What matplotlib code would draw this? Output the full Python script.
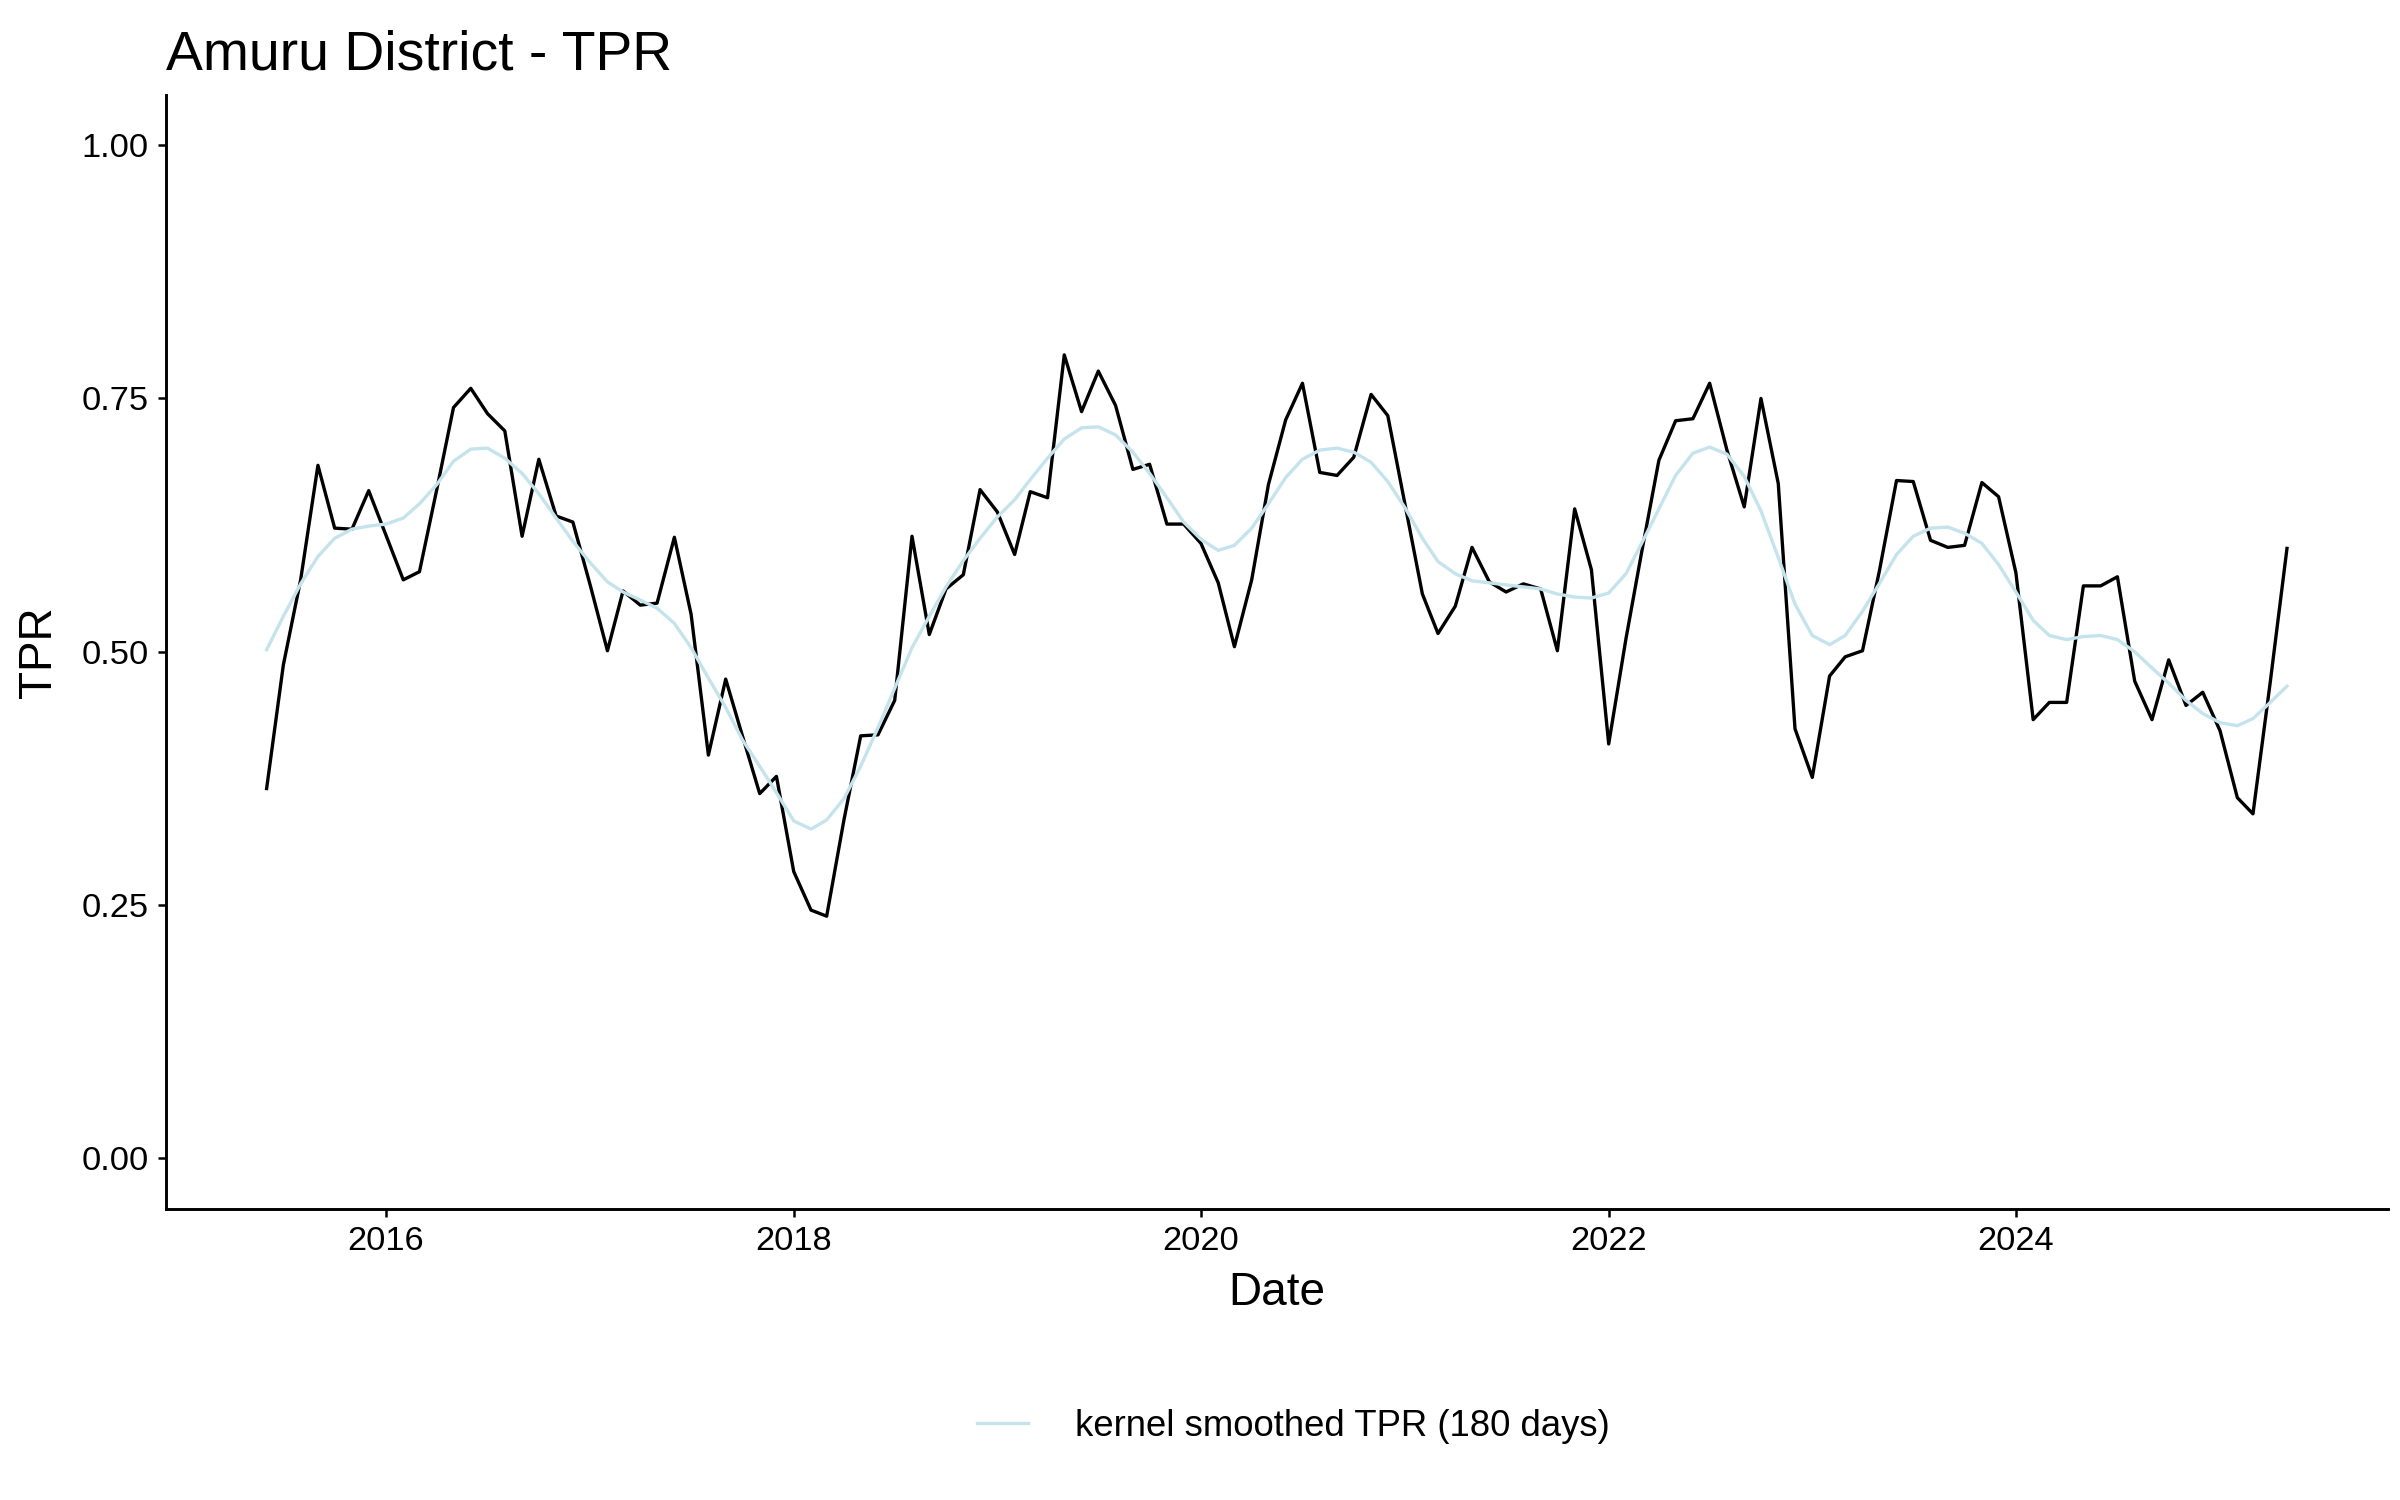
import matplotlib
matplotlib.use("Agg")
import matplotlib.pyplot as plt
import matplotlib.dates as mdates
import pandas as pd

plt.rcParams['font.family'] = ['Liberation Sans', 'DejaVu Sans']

# monthly observations, June 2015 -> May 2025
start_month = "2015-06-01"
n_months = 120

tpr = [
    0.365, 0.487, 0.571, 0.684, 0.622, 0.621, 0.659, 0.615, 0.571, 0.579,
    0.660, 0.741, 0.760, 0.735, 0.718, 0.614, 0.690, 0.634, 0.628, 0.566,
    0.501, 0.560, 0.546, 0.548, 0.613, 0.537, 0.398, 0.473, 0.417, 0.360,
    0.377, 0.283, 0.245, 0.239, 0.334, 0.417, 0.418, 0.452, 0.614, 0.517,
    0.562, 0.576, 0.660, 0.638, 0.596, 0.658, 0.652, 0.793, 0.737, 0.777,
    0.743, 0.680, 0.685, 0.626, 0.626, 0.607, 0.568, 0.505, 0.571, 0.665,
    0.729, 0.765, 0.677, 0.674, 0.692, 0.754, 0.733, 0.645, 0.557, 0.518,
    0.545, 0.603, 0.569, 0.559, 0.567, 0.562, 0.501, 0.641, 0.581, 0.409,
    0.513, 0.598, 0.689, 0.728, 0.730, 0.765, 0.699, 0.643, 0.750, 0.666,
    0.424, 0.376, 0.476, 0.495, 0.501, 0.579, 0.669, 0.668, 0.610, 0.603,
    0.605, 0.667, 0.653, 0.578, 0.433, 0.450, 0.450, 0.565, 0.565, 0.574,
    0.471, 0.433, 0.492, 0.447, 0.460, 0.422, 0.356, 0.340, 0.470, 0.602,
]

tpr_smooth = [
    0.502, 0.535, 0.567, 0.594, 0.612, 0.621, 0.624, 0.626, 0.632, 0.646,
    0.665, 0.688, 0.700, 0.701, 0.691, 0.676, 0.656, 0.632, 0.609, 0.588,
    0.569, 0.559, 0.551, 0.543, 0.528, 0.504, 0.474, 0.445, 0.413, 0.387,
    0.361, 0.333, 0.325, 0.334, 0.355, 0.387, 0.425, 0.464, 0.504, 0.535,
    0.564, 0.590, 0.612, 0.633, 0.650, 0.670, 0.691, 0.710, 0.721, 0.722,
    0.714, 0.697, 0.676, 0.652, 0.628, 0.611, 0.600, 0.605, 0.622, 0.646,
    0.672, 0.690, 0.699, 0.701, 0.697, 0.687, 0.668, 0.642, 0.612, 0.589,
    0.577, 0.570, 0.568, 0.566, 0.564, 0.562, 0.557, 0.554, 0.553, 0.558,
    0.577, 0.607, 0.641, 0.674, 0.696, 0.702, 0.695, 0.673, 0.639, 0.593,
    0.547, 0.516, 0.507, 0.516, 0.540, 0.567, 0.596, 0.614, 0.622, 0.623,
    0.617, 0.607, 0.586, 0.559, 0.531, 0.516, 0.512, 0.515, 0.516, 0.512,
    0.500, 0.484, 0.469, 0.452, 0.439, 0.430, 0.427, 0.434, 0.450, 0.466,
]

y_ticks = [0.00, 0.25, 0.50, 0.75, 1.00]

dates = pd.date_range(start_month, periods=n_months, freq="MS")

fig = plt.figure(figsize=(16, 10), dpi=150)
ax = fig.add_axes([0.069, 0.194, 0.926, 0.743])

ax.plot(dates, tpr, color="black", linewidth=1.6, zorder=2)
ax.plot(dates, tpr_smooth, color="#c5e3ec", linewidth=1.6, zorder=3,
        label="kernel smoothed TPR (180 days)")

# ggplot-like 5% expansion
span = dates[-1] - dates[0]
ax.set_xlim(dates[0] - span * 0.05, dates[-1] + span * 0.05)
ax.set_ylim(-0.05, 1.05)
ax.set_yticks(y_ticks)
ax.set_yticklabels([f"{v:.2f}" for v in y_ticks])
ax.xaxis.set_major_locator(mdates.YearLocator(2))
ax.xaxis.set_major_formatter(mdates.DateFormatter("%Y"))

for side in ["top", "right"]:
    ax.spines[side].set_visible(False)
for side in ["left", "bottom"]:
    ax.spines[side].set_linewidth(1.4)
ax.tick_params(axis="both", direction="out", length=4, width=1.2,
               labelsize=16.5, colors="black", pad=4)

ax.set_xlabel("Date", fontsize=22, labelpad=7)
ax.set_ylabel("TPR", fontsize=22, labelpad=10)
ax.set_title("Amuru District - TPR", fontsize=26.5, loc="left", pad=12)

fig.legend(loc="center", bbox_to_anchor=(0.539, 0.049), frameon=False,
           fontsize=17.5, handlelength=1.4, handletextpad=1.3)

fig.savefig("out.png", dpi=150)
